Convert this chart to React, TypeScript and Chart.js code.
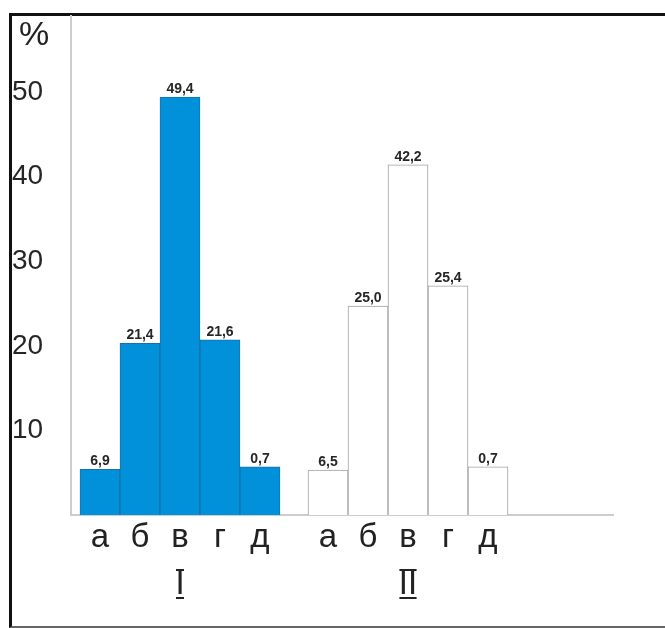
import React, { useEffect, useRef } from 'react';
import { Chart, registerables } from 'chart.js';

Chart.register(...registerables);

// ---- data ----
const categories = ['а', 'б', 'в', 'г', 'д'];
const groupNames = ['I', 'II'];
// bar heights as drawn in the picture (percent scale)
const heightsI = [5.4, 20.3, 49.4, 20.7, 5.7];
const heightsII = [5.3, 24.7, 41.4, 27.1, 5.7];
// value labels printed above the bars
const labelsI = ['6,9', '21,4', '49,4', '21,6', '0,7'];
const labelsII = ['6,5', '25,0', '42,2', '25,4', '0,7'];
const yTickValues = [10, 20, 30, 40, 50];
const yUnit = '%';

// ---- layout constants (in category units) ----
const GROUP_OFFSET = 5.7;
const X_MIN = -0.725;
const X_MAX = 12.825;
const Y_MAX = 59;

const pos = (g: number, i: number) => g * GROUP_OFFSET + i;
const FONT = "'Liberation Sans', Arial, sans-serif";

const tickLabels = [...categories, ...categories];

const valueLabelsPlugin = {
  id: 'valueLabels',
  afterDatasetsDraw(chart: any) {
    const ctx = chart.ctx;
    const all = [labelsI, labelsII];
    ctx.save();
    ctx.font = `bold 14px ${FONT}`;
    ctx.fillStyle = '#262626';
    ctx.textAlign = 'center';
    ctx.textBaseline = 'alphabetic';
    chart.data.datasets.forEach((_: any, di: number) => {
      const meta = chart.getDatasetMeta(di);
      meta.data.forEach((bar: any, i: number) => {
        ctx.fillText(all[di][i], bar.x, bar.y - 4);
      });
    });
    ctx.restore();
  },
};

const decorPlugin = {
  id: 'decor',
  afterDraw(chart: any) {
    const ctx = chart.ctx;
    ctx.save();
    // unit sign at the top of the y axis
    ctx.font = `34px ${FONT}`;
    ctx.fillStyle = '#222';
    ctx.textAlign = 'left';
    ctx.textBaseline = 'alphabetic';
    ctx.fillText(yUnit, 19, 45);
    // over/under bars of the roman numerals
    const s = chart.scales.x2;
    ctx.font = `33px ${FONT}`;
    ctx.strokeStyle = '#222';
    ctx.lineWidth = 2;
    groupNames.forEach((name, g) => {
      const cx = s.getPixelForValue(pos(g, 2));
      const m = ctx.measureText(name);
      const half = (m.actualBoundingBoxLeft + m.actualBoundingBoxRight) / 2 + 2;
      [s.top + 7, s.top + 35].forEach((y) => {
        ctx.beginPath();
        ctx.moveTo(cx - half, y);
        ctx.lineTo(cx + half, y);
        ctx.stroke();
      });
    });
    ctx.restore();
  },
};

export default function App() {
  const ref = useRef<HTMLCanvasElement | null>(null);

  useEffect(() => {
    if (!ref.current) return;
    const chart = new Chart(ref.current, {
      type: 'bar',
      data: {
        datasets: [
          {
            label: groupNames[0],
            data: heightsI.map((v, i) => ({ x: pos(0, i), y: v })),
            backgroundColor: '#0091da',
            borderColor: '#1a6fa6',
            borderWidth: 1,
            grouped: false,
            barPercentage: 1,
            categoryPercentage: 1,
          },
          {
            label: groupNames[1],
            data: heightsII.map((v, i) => ({ x: pos(1, i), y: v })),
            backgroundColor: '#ffffff',
            borderColor: '#a0a0a0',
            borderWidth: 1,
            grouped: false,
            barPercentage: 1,
            categoryPercentage: 1,
          },
        ] as any,
      },
      options: {
        animation: false,
        responsive: false,
        maintainAspectRatio: false,
        layout: { padding: { left: 12, right: 52, top: 16, bottom: 0 } },
        plugins: { legend: { display: false }, tooltip: { enabled: false } },
        scales: {
          x: {
            type: 'linear',
            position: 'bottom',
            weight: 0,
            min: X_MIN,
            max: X_MAX,
            offset: false,
            grid: { display: false, drawTicks: false },
            border: { display: true, color: '#cdcdcd', width: 2 },
            afterBuildTicks: (s: any) => {
              s.ticks = [
                ...categories.map((_, i) => ({ value: pos(0, i) })),
                ...categories.map((_, i) => ({ value: pos(1, i) })),
              ];
            },
            ticks: {
              autoSkip: false,
              maxRotation: 0,
              padding: 3,
              color: '#222',
              font: { family: FONT, size: 33 },
              callback: (_v: any, i: number) => tickLabels[i],
            },
            afterFit: (s: any) => {
              s.height = 48;
            },
          },
          x2: {
            type: 'linear',
            position: 'bottom',
            weight: 1,
            min: X_MIN,
            max: X_MAX,
            offset: false,
            grid: { display: false, drawTicks: false },
            border: { display: false },
            afterBuildTicks: (s: any) => {
              s.ticks = groupNames.map((_, g) => ({ value: pos(g, 2) }));
            },
            ticks: {
              autoSkip: false,
              maxRotation: 0,
              padding: 2,
              color: '#222',
              font: { family: FONT, size: 33 },
              callback: (_v: any, i: number) => groupNames[i],
            },
            afterFit: (s: any) => {
              s.height = 65;
            },
          },
          y: {
            type: 'linear',
            min: 0,
            max: Y_MAX,
            grid: { display: false, drawTicks: false },
            border: { display: true, color: '#cdcdcd', width: 2 },
            afterBuildTicks: (s: any) => {
              s.ticks = yTickValues.map((v) => ({ value: v }));
            },
            ticks: {
              crossAlign: 'far',
              padding: 0,
              color: '#262626',
              font: { family: FONT, size: 28, lineHeight: 1 },
              callback: (v: any) => String(v),
            },
            afterFit: (s: any) => {
              s.width = 59;
            },
          },
        } as any,
      },
      plugins: [valueLabelsPlugin, decorPlugin],
    });
    return () => chart.destroy();
  }, []);

  return (
    <div style={{ position: 'absolute', left: 0, top: 0, width: 665, height: 628, background: '#fff' }}>
      <div
        style={{
          position: 'absolute',
          left: 9,
          top: 13,
          width: 656,
          height: 615,
          boxSizing: 'border-box',
          borderTop: '3px solid #111',
          borderLeft: '3px solid #111',
          borderBottom: '2px solid #666',
        }}
      />
      <canvas ref={ref} width={665} height={628} style={{ position: 'absolute', left: 0, top: 0 }} />
    </div>
  );
}
